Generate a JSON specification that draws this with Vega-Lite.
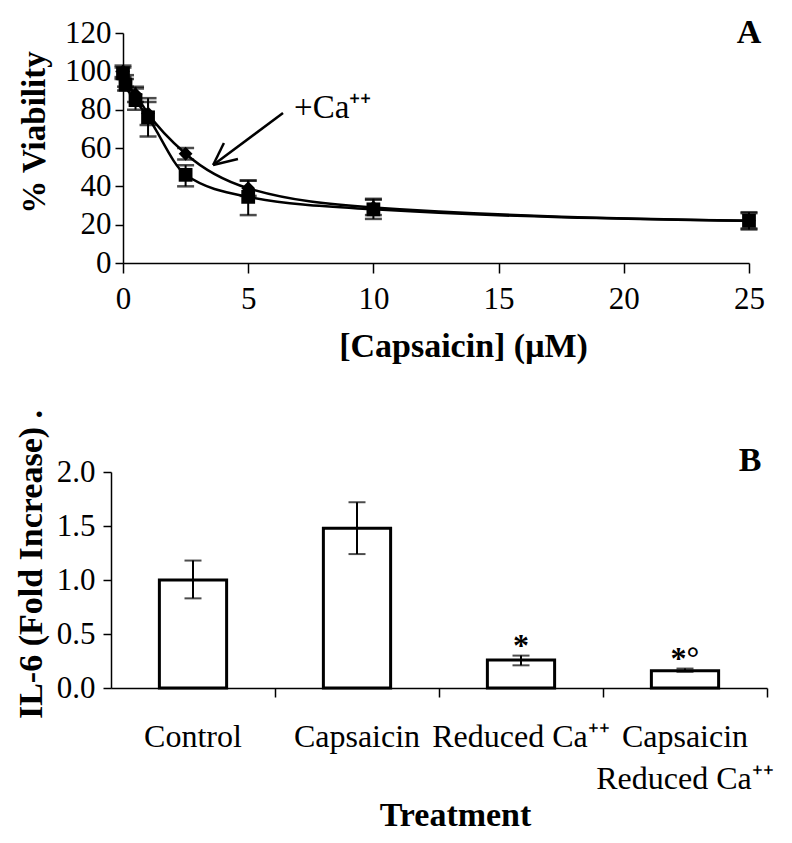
{
  "$schema": "https://vega.github.io/schema/vega-lite/v6.json",
  "background": "white",
  "padding": {"left": 13, "top": 16, "right": 5, "bottom": 5},
  "columns": 1,
  "align": "none",
  "spacing": 37,
  "config": {
    "font": "Liberation Serif",
    "view": {"stroke": null},
    "axis": {
      "grid": false,
      "domainColor": "black",
      "domainWidth": 1.5,
      "tickColor": "black",
      "tickWidth": 1.5,
      "labelColor": "black",
      "titleColor": "black",
      "labelFont": "Liberation Serif",
      "titleFont": "Liberation Serif",
      "labelFontSize": 31,
      "titleFontSize": 33,
      "titleFontWeight": "bold",
      "labelOverlap": false
    },
    "axisY": {"labelOverlap": false}
  },
  "datasets": {
    "viability": [
      {"series": "+Ca⁺⁺", "conc": 0, "v": 100, "lo": 97, "hi": 103},
      {"series": "+Ca⁺⁺", "conc": 0.1, "v": 95, "lo": 92, "hi": 98},
      {"series": "+Ca⁺⁺", "conc": 0.5, "v": 88, "lo": 84, "hi": 92},
      {"series": "+Ca⁺⁺", "conc": 1, "v": 78, "lo": 72, "hi": 84},
      {"series": "+Ca⁺⁺", "conc": 2.5, "v": 57, "lo": 54, "hi": 60},
      {"series": "+Ca⁺⁺", "conc": 5, "v": 39, "lo": 35, "hi": 43},
      {"series": "+Ca⁺⁺", "conc": 10, "v": 29, "lo": 25, "hi": 33},
      {"series": "+Ca⁺⁺", "conc": 25, "v": 22, "lo": 18, "hi": 26},
      {"series": "Reduced Ca⁺⁺", "conc": 0, "v": 99, "lo": 96, "hi": 102},
      {"series": "Reduced Ca⁺⁺", "conc": 0.1, "v": 93, "lo": 90, "hi": 96},
      {"series": "Reduced Ca⁺⁺", "conc": 0.5, "v": 85, "lo": 80, "hi": 91},
      {"series": "Reduced Ca⁺⁺", "conc": 1, "v": 76, "lo": 66, "hi": 86},
      {"series": "Reduced Ca⁺⁺", "conc": 2.5, "v": 46, "lo": 40, "hi": 51},
      {"series": "Reduced Ca⁺⁺", "conc": 5, "v": 34.5, "lo": 25, "hi": 43},
      {"series": "Reduced Ca⁺⁺", "conc": 10, "v": 28, "lo": 23, "hi": 33.5},
      {"series": "Reduced Ca⁺⁺", "conc": 25, "v": 22, "lo": 17.5, "hi": 26.5}
    ],
    "il6": [
      {"treatment": "Control", "v": 1.0, "lo": 0.83, "hi": 1.18, "sig": ""},
      {"treatment": "Capsaicin", "v": 1.48, "lo": 1.24, "hi": 1.72, "sig": ""},
      {"treatment": "Reduced Ca⁺⁺", "v": 0.26, "lo": 0.21, "hi": 0.3, "sig": "*"},
      {"treatment": "Capsaicin\nReduced Ca⁺⁺", "v": 0.16, "lo": 0.15, "hi": 0.18, "sig": "*°"}
    ]
  },
  "concat": [
    {
      "width": 626,
      "height": 230,
      "data": {"name": "viability"},
      "layer": [
        {
          "mark": {"type": "line", "color": "black", "strokeWidth": 2.5, "interpolate": "monotone"},
          "encoding": {
            "x": {"field": "conc", "type": "quantitative",
              "scale": {"domain": [0, 25], "nice": false, "zero": false},
              "axis": {"values": [0, 5, 10, 15, 20, 25], "tickSize": 10, "labelPadding": 11,
                "title": "[Capsaicin] (μM)", "titleX": 340, "titleY": 93, "titleAlign": "center",
                "titleBaseline": "alphabetic", "titleFontSize": 34, "labelFlush": false, "labelOverlap": false}},
            "y": {"field": "v", "type": "quantitative",
              "scale": {"domain": [0, 120], "nice": false},
              "axis": {"values": [0, 20, 40, 60, 80, 100, 120], "tickSize": 8, "labelPadding": 4,
                "title": "% Viability", "titleX": -89, "titleY": 99, "titleAngle": -90,
                "titleAlign": "center", "titleBaseline": "middle", "labelFlush": false, "labelOverlap": false}},
            "detail": {"field": "series"}
          }
        },
        {
          "mark": {"type": "rule", "color": "black", "strokeWidth": 2},
          "encoding": {
            "x": {"field": "conc", "type": "quantitative", "axis": {"labelOverlap": false}},
            "y": {"field": "lo", "type": "quantitative", "axis": {"labelOverlap": false, "values": [0, 20, 40, 60, 80, 100, 120]}},
            "y2": {"field": "hi"}
          }
        },
        {
          "mark": {"type": "tick", "color": "black", "orient": "horizontal", "size": 17, "thickness": 2.5},
          "encoding": {
            "x": {"field": "conc", "type": "quantitative", "axis": {"labelOverlap": false}},
            "y": {"field": "lo", "type": "quantitative", "axis": {"labelOverlap": false, "values": [0, 20, 40, 60, 80, 100, 120]}}
          }
        },
        {
          "mark": {"type": "tick", "color": "black", "orient": "horizontal", "size": 17, "thickness": 2.5},
          "encoding": {
            "x": {"field": "conc", "type": "quantitative", "axis": {"labelOverlap": false}},
            "y": {"field": "hi", "type": "quantitative", "axis": {"labelOverlap": false, "values": [0, 20, 40, 60, 80, 100, 120]}}
          }
        },
        {
          "mark": {"type": "point", "filled": true, "color": "black", "opacity": 1, "size": 190},
          "encoding": {
            "x": {"field": "conc", "type": "quantitative", "axis": {"labelOverlap": false}},
            "y": {"field": "v", "type": "quantitative", "axis": {"labelOverlap": false, "values": [0, 20, 40, 60, 80, 100, 120]}},
            "shape": {"field": "series", "type": "nominal",
              "scale": {"domain": ["+Ca⁺⁺", "Reduced Ca⁺⁺"], "range": ["diamond", "square"]},
              "legend": null}
          }
        },
        {
          "data": {"values": [{"label": "+Ca⁺⁺"}]},
          "mark": {"type": "text", "align": "left", "baseline": "alphabetic", "fontSize": 33, "color": "black", "font": "Liberation Serif"},
          "encoding": {
            "x": {"datum": 6.83, "type": "quantitative", "axis": {"labelOverlap": false}},
            "y": {"datum": 75.6, "type": "quantitative", "axis": {"labelOverlap": false, "values": [0, 20, 40, 60, 80, 100, 120]}},
            "text": {"field": "label"}
          }
        },
        {
          "data": {"values": [{}]},
          "mark": {"type": "rule", "color": "black", "strokeWidth": 2.5},
          "encoding": {
            "x": {"datum": 6.39, "type": "quantitative", "axis": {"labelOverlap": false}},
            "y": {"datum": 78.3, "type": "quantitative", "axis": {"labelOverlap": false, "values": [0, 20, 40, 60, 80, 100, 120]}},
            "x2": {"datum": 3.6},
            "y2": {"datum": 51.1}
          }
        },
        {
          "data": {"values": [{}]},
          "mark": {"type": "rule", "color": "black", "strokeWidth": 2.5},
          "encoding": {
            "x": {"datum": 3.6, "type": "quantitative", "axis": {"labelOverlap": false}},
            "y": {"datum": 51.1, "type": "quantitative", "axis": {"labelOverlap": false, "values": [0, 20, 40, 60, 80, 100, 120]}},
            "x2": {"datum": 4.59},
            "y2": {"datum": 54.3}
          }
        },
        {
          "data": {"values": [{}]},
          "mark": {"type": "rule", "color": "black", "strokeWidth": 2.5},
          "encoding": {
            "x": {"datum": 3.6, "type": "quantitative", "axis": {"labelOverlap": false}},
            "y": {"datum": 51.1, "type": "quantitative", "axis": {"labelOverlap": false, "values": [0, 20, 40, 60, 80, 100, 120]}},
            "x2": {"datum": 4.03},
            "y2": {"datum": 62.6}
          }
        },
        {
          "data": {"values": [{"label": "A"}]},
          "mark": {"type": "text", "align": "center", "baseline": "middle", "fontSize": 34, "fontWeight": "bold", "color": "black", "font": "Liberation Serif"},
          "encoding": {
            "x": {"datum": 25, "type": "quantitative", "axis": {"labelOverlap": false}},
            "y": {"datum": 120, "type": "quantitative", "axis": {"labelOverlap": false, "values": [0, 20, 40, 60, 80, 100, 120]}},
            "text": {"field": "label"}
          }
        }
      ]
    },
    {
      "width": 656,
      "height": 216,
      "data": {"name": "il6"},
      "layer": [
        {
          "mark": {"type": "bar", "fill": "white", "stroke": "black", "strokeWidth": 3, "width": {"band": 0.41}},
          "encoding": {
            "x": {"field": "treatment", "type": "nominal", "sort": null,
              "scale": {"paddingInner": 0, "paddingOuter": 0, "range": [-12, 644]},
              "axis": {"title": "Treatment", "labelAngle": 0, "labelFontSize": 32,
                "labelExpr": "split(datum.label, '\\n')", "labelLineHeight": 42,
                "labelPadding": 24, "tickSize": 9, "bandPosition": 1,
                "labelBound": false, "labelFlush": false, "labelOverlap": false,
                "titleX": 332, "titleY": 137, "titleAlign": "center", "titleBaseline": "alphabetic",
                "titleFontSize": 34}},
            "y": {"field": "v", "type": "quantitative",
              "scale": {"domain": [0, 2], "nice": false},
              "axis": {"values": [0, 0.5, 1, 1.5, 2], "format": ".1f", "tickSize": 8, "labelPadding": 8,
                "offset": 12,
                "title": "IL-6 (Fold Increase)   .", "titleX": -80, "titleY": 92, "titleAngle": -90,
                "titleAlign": "center", "titleBaseline": "middle", "titleFontSize": 34, "labelFlush": false, "labelOverlap": false}}
          }
        },
        {
          "mark": {"type": "rule", "color": "black", "strokeWidth": 2},
          "encoding": {
            "x": {"field": "treatment", "type": "nominal", "sort": null},
            "y": {"field": "lo", "type": "quantitative"},
            "y2": {"field": "hi"}
          }
        },
        {
          "mark": {"type": "tick", "color": "black", "orient": "horizontal", "size": 17, "thickness": 2},
          "encoding": {
            "x": {"field": "treatment", "type": "nominal", "sort": null},
            "y": {"field": "lo", "type": "quantitative"}
          }
        },
        {
          "mark": {"type": "tick", "color": "black", "orient": "horizontal", "size": 17, "thickness": 2},
          "encoding": {
            "x": {"field": "treatment", "type": "nominal", "sort": null},
            "y": {"field": "hi", "type": "quantitative"}
          }
        },
        {
          "mark": {"type": "text", "align": "center", "baseline": "alphabetic", "fontSize": 32, "fontWeight": "bold", "color": "black", "font": "Liberation Serif"},
          "encoding": {
            "x": {"field": "treatment", "type": "nominal", "sort": null},
            "y": {"field": "hi", "type": "quantitative"},
            "text": {"field": "sig"}
          }
        },
        {
          "data": {"values": [{"label": "B"}]},
          "mark": {"type": "text", "align": "center", "baseline": "middle", "fontSize": 34, "fontWeight": "bold", "color": "black", "font": "Liberation Serif", "dx": 65},
          "encoding": {
            "x": {"datum": "Capsaicin\nReduced Ca⁺⁺", "type": "nominal"},
            "y": {"datum": 2.1, "type": "quantitative"},
            "text": {"field": "label"}
          }
        }
      ]
    }
  ]
}
